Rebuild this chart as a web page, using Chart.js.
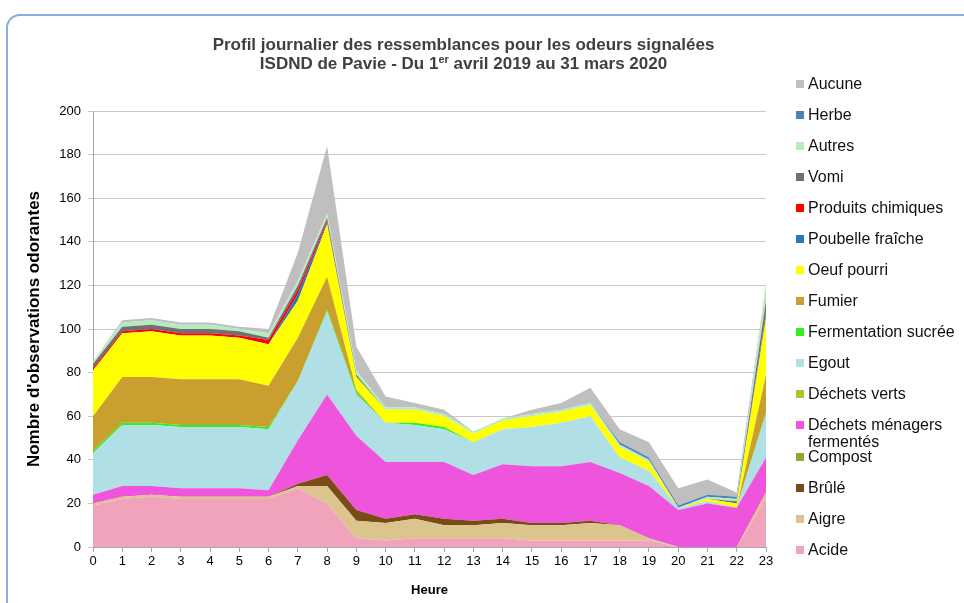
<!DOCTYPE html>
<html>
<head>
<meta charset="utf-8">
<script src="https://cdn.jsdelivr.net/npm/chart.js@4.4.1/dist/chart.umd.min.js"></script>
<style>
  html, body { margin: 0; padding: 0; background: #fff; overflow: hidden; }
  body { width: 964px; height: 603px; position: relative; font-family: 'Liberation Sans', Arial, sans-serif; }
  #frame { position: absolute; left: 6px; top: 14px; width: 1000px; height: 1000px;
           border: 2px solid #86aee0; border-radius: 14px; }
  #chart { position: absolute; left: 0; top: 0; }
  #title { position: absolute; left: 0; top: 35px; width: 927px; text-align: center;
           font-weight: bold; font-size: 17px; line-height: 19px; color: #404040; }
  #title sup { font-size: 11px; line-height: 0; vertical-align: 6px; }
  #legend { position: absolute; left: 0; top: 0; }
  .item { position: absolute; left: 796px; font-size: 16px; line-height: 17px; color: #111; white-space: nowrap; }
  .item span.box { position: absolute; left: 0; top: 5px; width: 8px; height: 8px; }
  .item span.txt { position: absolute; left: 12px; top: 0; }
</style>
</head>
<body>
<div id="frame"></div>
<canvas id="chart" width="964" height="603"></canvas>
<div id="title">Profil journalier des ressemblances pour les odeurs signalées<br>ISDND de Pavie - Du 1<sup>er</sup> avril 2019 au 31 mars 2020</div>
<div id="legend"></div>
<script>
Chart.defaults.font.family = "'Liberation Sans', Arial, sans-serif";
Chart.defaults.color = '#000';

/// Hours of the day
const hours = ['0','1','2','3','4','5','6','7','8','9','10','11','12','13','14','15','16','17','18','19','20','21','22','23'];

/// Values per odour (stacked from bottom to top)
const acide       = [19,22,23,22,22,22,22,27,20,4,3,4,4,4,4,3,3,3,3,3,0,0,0,22];
const aigre       = [1,1,1,1,1,1,1,1,8,8,8,9,6,6,7,7,7,8,7,1,0,0,0,3];
const brule       = [0,0,0,0,0,0,0,1,5,5,2,2,3,2,2,1,1,1,0,0,0,0,0,0];
const compost     = [0,0,0,0,0,0,0,0,0,0,0,0,0,0,0,0,0,0,0,0,0,0,0,0];
const dechetsMen  = [4,5,4,4,4,4,3,20,37,34,26,24,26,21,25,26,26,27,24,24,17,20,18,16];
const dechetsVert = [0,0,0,0,0,0,0,0,0,0,0,0,0,0,0,0,0,0,0,0,0,0,0,0];
const egout       = [19,28,28,28,28,28,28,27,38,19,18,17,15,15,16,18,20,21,7,7,1,1,0,20];
const fermSucree  = [1,1,1,1,1,1,1,0,1,1,0,1,1,0,0,0,0,0,0,0,0,0,0,1];
const fumier      = [16,21,21,21,21,21,19,20,15,1,0,0,0,0,0,0,0,0,0,0,0,0,0,17];
const oeufPourri  = [21,20,21,20,20,19,19,17,24,6,6,6,5,4,4,5,5,5,5,4,0,1,2,26];
const poubelle    = [0,0,0,0,0,0,0,3,1,0,0,0,0,0,0,0,0,0,0,0,0,0,0,2];
const produitsCh  = [1,1,1,1,1,1,2,2,1,0,0,0,0,0,0,0,0,0,0,0,0,0,0,1];
const vomi        = [2,2,2,2,2,2,1,2,1,1,0,0,0,0,0,0,0,0,0,0,0,0,1,5];
const autres      = [1,2,2,2,2,1,2,2,2,2,1,1,1,1,1,1,1,1,1,1,0,1,1,7];
const herbe       = [0,0,0,0,0,0,0,0,0,0,0,0,0,0,0,0,0,0,1,1,1,1,1,0];
const aucune      = [0,1,1,1,1,1,2,13,31,11,5,2,2,0,0,2,3,7,6,7,8,7,2,1];

const seriesNames = ['Acide','Aigre','Brûlé','Compost','Déchets ménagers fermentés','Déchets verts','Egout',
  'Fermentation sucrée','Fumier','Oeuf pourri','Poubelle fraîche','Produits chimiques','Vomi','Autres','Herbe','Aucune'];
const seriesValues = [acide, aigre, brule, compost, dechetsMen, dechetsVert, egout,
  fermSucree, fumier, oeufPourri, poubelle, produitsCh, vomi, autres, herbe, aucune];
const seriesColors = ['#f0a3bb','#dcc58c','#7a4a17','#93a82a','#ee55dc','#a6c82a','#b0dfe6',
  '#33ee22','#c9a030','#ffff00','#2e75b6','#ff0000','#707070','#b4ecc0','#4f81bd','#bfbfbf'];

const datasets = seriesNames.map((name, i) => ({
    label: name,
    data: seriesValues[i],
    backgroundColor: seriesColors[i],
    borderColor: seriesColors[i],
    borderWidth: 0,
    pointRadius: 0,
    tension: 0,
    fill: i === 0 ? 'origin' : '-1'
}));

const chart = new Chart('chart', {
    type: 'line',
    data: { labels: hours, datasets: datasets },
    options: {
        responsive: false,
        animation: false,
        layout: { padding: { left: 20, top: 111, right: 198, bottom: 1 } },
        plugins: {
            legend: { display: false },
            tooltip: { enabled: false }
        },
        scales: {
            x: {
                offset: false,
                afterFit: s => { s.height = 55; },
                grid: { display: true, drawOnChartArea: false, tickLength: 5, color: '#a6a6a6' },
                border: { color: '#a6a6a6' },
                ticks: { font: { size: 13 }, padding: 2, maxRotation: 0, autoSkip: false },
                title: { display: true, text: 'Heure', font: { size: 13, weight: 'bold' } }
            },
            y: {
                stacked: true,
                min: 0,
                max: 200,
                afterFit: s => { s.width = 73; },
                grid: { color: '#c8c8c8', tickLength: 5 },
                border: { color: '#a6a6a6' },
                ticks: { stepSize: 20, font: { size: 13 }, padding: 7 },
                title: { display: true, text: "Nombre d'observations odorantes", font: { size: 17, weight: 'bold' } }
            }
        }
    }
});

/// Legend on the right, top item is the last series
const legendBox = document.getElementById('legend');
let legendY = 75;
for (let i = seriesNames.length - 1; i >= 0; i--) {
    const item = document.createElement('div');
    item.className = 'item';
    item.style.top = legendY + 'px';
    let name = seriesNames[i];
    if (name === 'Déchets ménagers fermentés') name = 'Déchets ménagers<br>fermentés';
    item.innerHTML = '<span class="box" style="background:' + seriesColors[i] + '"></span><span class="txt">' + name + '</span>';
    legendBox.appendChild(item);
    legendY += name.indexOf('<br>') >= 0 ? 32 : 31;
}
</script>
</body>
</html>
